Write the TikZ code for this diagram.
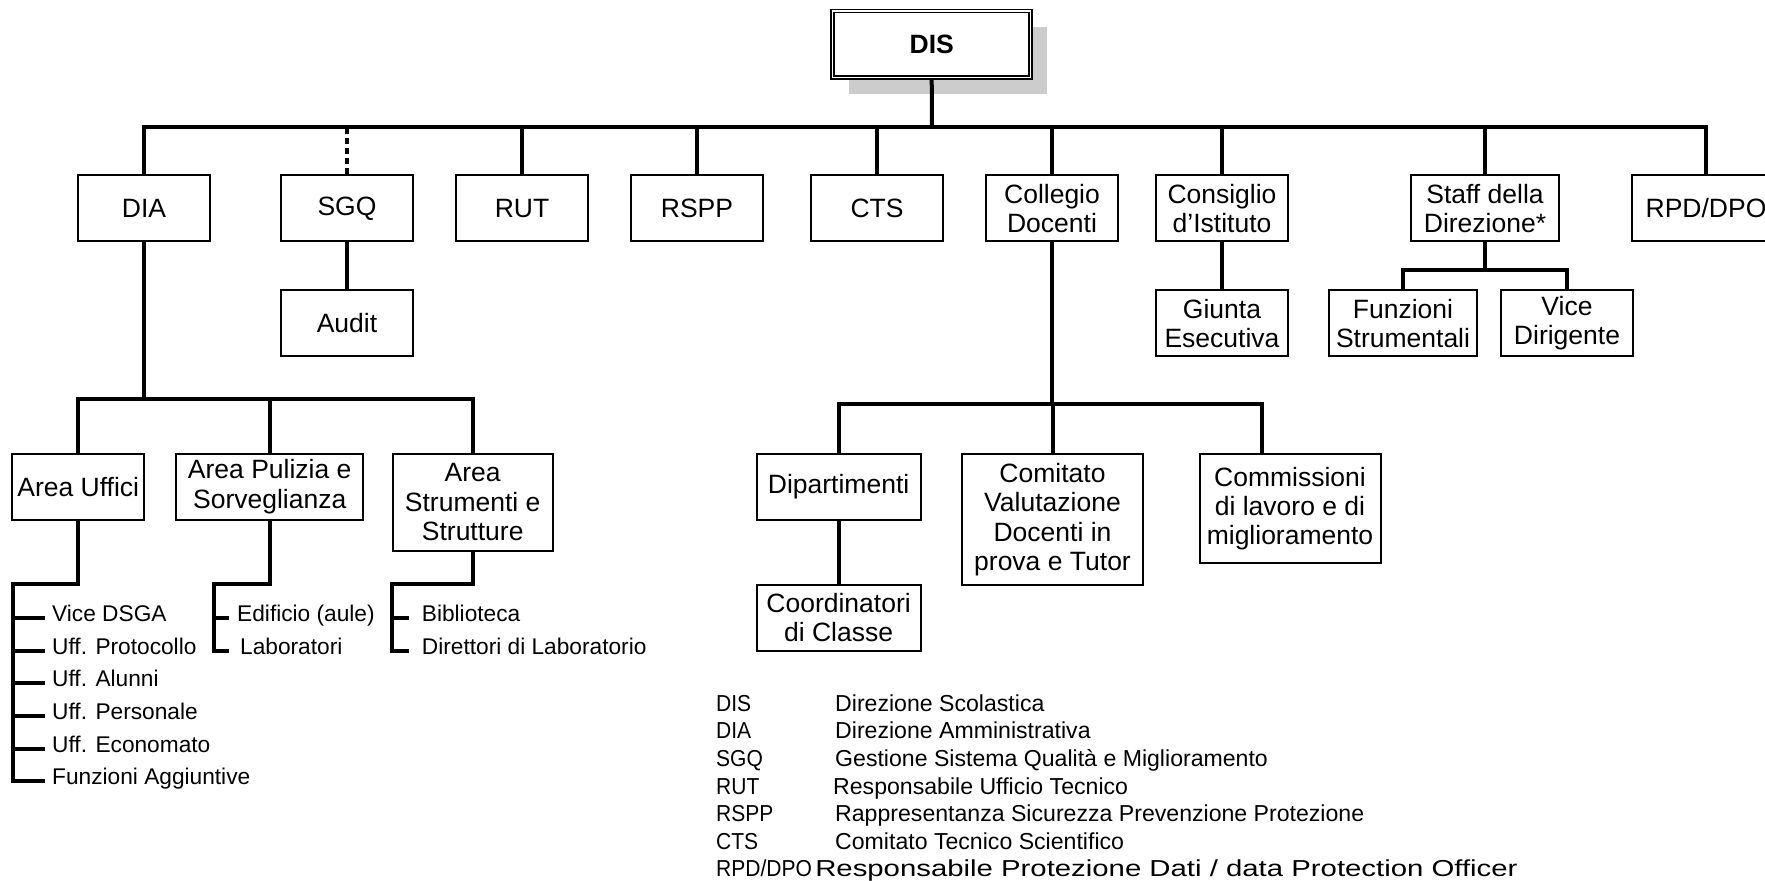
\documentclass[tikz,border=0pt]{standalone}
\usepackage{fontspec}
\setmainfont{Liberation Sans}
\usetikzlibrary{shadows}
\newcommand{\boxfont}{\fontsize{26.5}{29.3}\selectfont}
\newcommand{\listfont}{\fontsize{22.7}{25}\selectfont}
\newcommand{\descfont}{\fontsize{23.1}{25}\selectfont}
\begin{document}
\begin{tikzpicture}[x=1pt, y=-1pt,
	box/.style={draw, line width=2pt, fill=white, align=center, inner sep=0pt,
		font=\boxfont, minimum width=132pt, minimum height=66pt},
	link/.style={line width=4pt},
	voce/.style={anchor=west, inner sep=0pt, font=\listfont,
		text height=0.72em, text depth=0pt},
	legenda/.style={anchor=west, inner sep=0pt, font=\descfont,
		text height=0.72em, text depth=0pt},
	sigla/.style={legenda, xscale=0.91, transform shape}]
	\useasboundingbox (0,0) rectangle (1765,881);

	% vertice
	\node[box, font=\boxfont\bfseries, minimum width=198pt, minimum height=66.7pt,
		line width=1.5pt, double, double distance=1.5pt,
		drop shadow={shadow xshift=16.5pt, shadow yshift=-16.5pt, fill=black!20, opacity=1}]
		(dis) at (931.7,44.3) {DIS};
	\coordinate (bus) at (932,126.7);

	% primo livello
	\node[box] (dia) at (144,208.3) {DIA};
	\node[box] (sgq) at (347,208.3) {SGQ};
	\node[box] (rut) at (522,208.3) {RUT};
	\node[box] (rspp) at (697,208.3) {RSPP};
	\node[box] (cts) at (877,208.3) {CTS};
	\node[box] (cd) at (1052,208.3) {Collegio\\Docenti};
	\node[box] (ci) at (1222,208.3) {Consiglio\\d’Istituto};
	\node[box, minimum width=148pt] (staff) at (1485,208.3) {Staff della\\Direzione*};
	\node[box, minimum width=148pt] (rpd) at (1706,208.3) {RPD/DPO};

	\draw[link] (dis.south) -- (bus);
	\draw[link] (dia.north) |- (rpd.north |- bus) -- (rpd.north);
	\draw[link, dash pattern=on 6pt off 4pt] (sgq.north) -- (sgq.north |- bus);
	\draw[link] (rut.north) -- (rut.north |- bus);
	\draw[link] (rspp.north) -- (rspp.north |- bus);
	\draw[link] (cts.north) -- (cts.north |- bus);
	\draw[link] (cd.north) -- (cd.north |- bus);
	\draw[link] (ci.north) -- (ci.north |- bus);
	\draw[link] (staff.north) -- (staff.north |- bus);

	% secondo livello
	\node[box] (audit) at (347,323.2) {Audit};
	\node[box] (giunta) at (1222,323.2) {Giunta\\Esecutiva};
	\node[box, minimum width=148pt] (funz) at (1403,323.2) {Funzioni\\Strumentali};
	\node[box] (vice) at (1567,323.2) {Vice\\Dirigente};
	\coordinate (sbus) at (1485,270);

	\draw[link] (sgq) -- (audit);
	\draw[link] (ci) -- (giunta);
	\draw[link] (staff.south) -- (sbus);
	\draw[link] (funz.north) |- (vice.north |- sbus) -- (vice.north);

	% aree DIA
	\node[box] (uffici) at (78.2,486.7) {Area Uffici};
	\node[box, minimum width=187pt] (puliz) at (269.7,486.7) {Area Pulizia e\\Sorveglianza};
	\node[box, minimum width=160pt, minimum height=97pt] (strum) at (472.7,502.3) {Area\\Strumenti e\\Strutture};
	\coordinate (dbus) at (144,399.3);

	\draw[link] (dia.south) -- (dbus);
	\draw[link] (uffici.north) |- (strum.north |- dbus) -- (strum.north);
	\draw[link] (puliz.north) -- (puliz.north |- dbus);

	% voci Area Uffici
	\node[voce] (u1) at (52,617.7) {Vice DSGA};
	\node[voce] (u2) at (52,650.7) {Uff. Protocollo};
	\node[voce] (u3) at (52,683.3) {Uff. Alunni};
	\node[voce] (u4) at (52,716) {Uff. Personale};
	\node[voce] (u5) at (52,748.7) {Uff. Economato};
	\node[voce] (u6) at (52,781) {Funzioni Aggiuntive};
	\coordinate (u0) at (13.3,584);
	\coordinate (ue) at (45,584);
	\draw[link] (uffici.south) |- (u0) |- (u6.west -| ue);
	\draw[link] (u1.west -| u0) -- (u1.west -| ue);
	\draw[link] (u2.west -| u0) -- (u2.west -| ue);
	\draw[link] (u3.west -| u0) -- (u3.west -| ue);
	\draw[link] (u4.west -| u0) -- (u4.west -| ue);
	\draw[link] (u5.west -| u0) -- (u5.west -| ue);

	% voci Area Pulizia
	\node[voce] (p1) at (237,617.7) {Edificio (aule)};
	\node[voce] (p2) at (240,650.7) {Laboratori};
	\coordinate (p0) at (214.3,584);
	\coordinate (pe) at (229,584);
	\draw[link] (puliz.south) |- (p0) |- (p2.west -| pe);
	\draw[link] (p1.west -| p0) -- (p1.west -| pe);

	% voci Area Strumenti
	\node[voce] (s1) at (421.7,617.7) {Biblioteca};
	\node[voce] (s2) at (421.7,650.7) {Direttori di Laboratorio};
	\coordinate (s0) at (392.3,584);
	\coordinate (se) at (408.5,584);
	\draw[link] (strum.south) |- (s0) |- (s2.west -| se);
	\draw[link] (s1.west -| s0) -- (s1.west -| se);

	% Collegio Docenti
	\node[box, minimum width=164pt] (dip) at (838.6,486.7) {Dipartimenti};
	\node[box, minimum width=164pt] (coord) at (838.6,617.8) {Coordinatori\\di Classe};
	\node[box, minimum width=181pt, minimum height=131pt] (comitato) at (1052.5,519.7) {Comitato\\Valutazione\\Docenti in\\prova e Tutor};
	\node[box, minimum width=181pt, minimum height=109pt] (comm) at (1290,508.5) {Commissioni\\di lavoro e di\\miglioramento};
	\coordinate (cbus) at (1052,404);
	\coordinate (commin) at ([xshift=63.9pt]comm.north west);

	\draw[link] (cd.south) -- (cbus);
	\draw[link] (dip.north) |- (commin |- cbus) -- (commin);
	\draw[link] (comitato.north) -- (comitato.north |- cbus);
	\draw[link] (dip) -- (coord);

	% legenda
	\node[sigla] (ab1) at (716,707.7) {DIS};
	\node[sigla] (ab2) at (716,735.3) {DIA};
	\node[sigla] (ab3) at (716,762.8) {SGQ};
	\node[sigla] (ab4) at (716,790.4) {RUT};
	\node[sigla] (ab5) at (716,817.9) {RSPP};
	\node[sigla] (ab6) at (716,845.5) {CTS};
	\node[sigla] (ab7) at (716,873) {RPD/DPO};
	\node[legenda] (de1) at (835,707.7) {Direzione Scolastica};
	\node[legenda] (de2) at (835,735.3) {Direzione Amministrativa};
	\node[legenda] (de3) at (835,762.8) {Gestione Sistema Qualità e Miglioramento};
	\node[legenda] (de4) at (833,790.4) {Responsabile Ufficio Tecnico};
	\node[legenda] (de5) at (835,817.9) {Rappresentanza Sicurezza Prevenzione Protezione};
	\node[legenda] (de6) at (835,845.5) {Comitato Tecnico Scientifico};
	\node[legenda, xscale=1.27, transform shape] (de7) at (815,873) {Responsabile Protezione Dati / data Protection Officer};
\end{tikzpicture}
\end{document}
